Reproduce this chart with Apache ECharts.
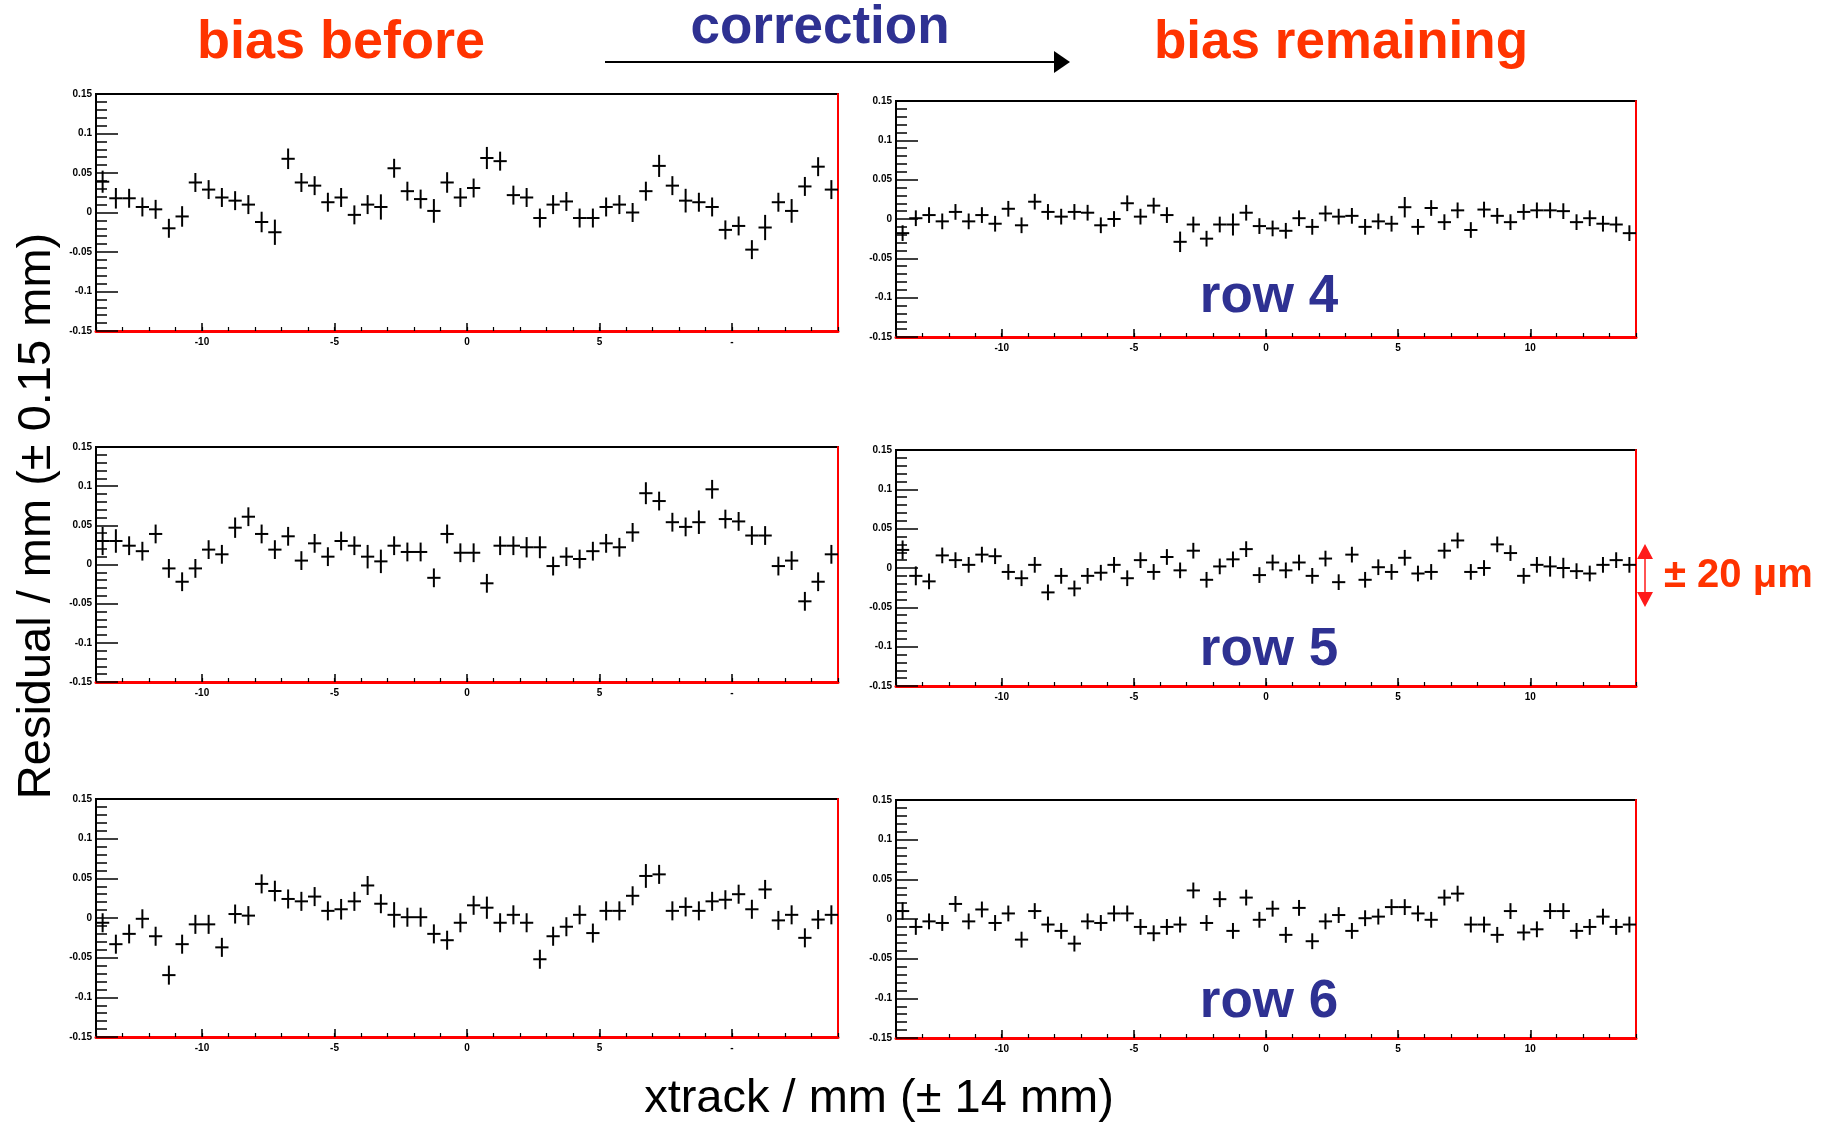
<!DOCTYPE html>
<html><head><meta charset="utf-8">
<script src="https://cdn.jsdelivr.net/npm/echarts@6/dist/echarts.min.js"></script>
<style>html,body{margin:0;padding:0;background:#fff;}#c{width:1843px;height:1126px;}</style>
</head><body><div id="c"></div>
<script>
// ---- data (bin centres in mm, residuals in mm) ----
const xtrack = [-13.75,-13.25,-12.75,-12.25,-11.75,-11.25,-10.75,-10.25,-9.75,-9.25,-8.75,-8.25,-7.75,-7.25,-6.75,-6.25,-5.75,-5.25,-4.75,-4.25,-3.75,-3.25,-2.75,-2.25,-1.75,-1.25,-0.75,-0.25,
  0.25,0.75,1.25,1.75,2.25,2.75,3.25,3.75,4.25,4.75,5.25,5.75,6.25,6.75,7.25,7.75,8.25,8.75,9.25,9.75,10.25,10.75,11.25,11.75,12.25,12.75,13.25,13.75];

const row4Before = [0.039,0.018,0.018,0.007,0.004,-0.020,-0.005,0.038,0.029,0.019,0.015,0.010,-0.012,-0.025,0.068,0.038,0.034,0.013,0.019,-0.003,0.010,0.007,0.056,0.027,0.017,0.002,0.038,0.019,
  0.031,0.069,0.065,0.022,0.019,-0.007,0.010,0.014,-0.007,-0.007,0.007,0.010,0.000,0.027,0.059,0.034,0.015,0.013,0.007,-0.022,-0.017,-0.047,-0.019,0.013,0.002,0.033,0.058,0.029];
const row4After = [-0.018,0.001,0.005,-0.003,0.009,-0.003,0.005,-0.006,0.013,-0.008,0.022,0.009,0.003,0.009,0.008,-0.008,0.000,0.020,0.003,0.017,0.005,-0.029,-0.007,-0.025,-0.007,-0.007,0.008,-0.009,
  -0.012,-0.015,0.001,-0.010,0.007,0.003,0.004,-0.010,-0.003,-0.006,0.015,-0.010,0.014,-0.004,0.011,-0.014,0.012,0.004,-0.004,0.009,0.011,0.011,0.010,-0.004,0.001,-0.006,-0.007,-0.018];
const row5Before = [0.030,0.030,0.024,0.017,0.039,-0.005,-0.022,-0.005,0.019,0.013,0.047,0.061,0.039,0.019,0.036,0.005,0.027,0.010,0.030,0.024,0.010,0.004,0.024,0.016,0.016,-0.017,0.039,0.015,
  0.015,-0.024,0.024,0.024,0.022,0.022,-0.002,0.010,0.007,0.017,0.027,0.022,0.041,0.091,0.081,0.054,0.048,0.054,0.096,0.058,0.055,0.037,0.037,-0.002,0.005,-0.047,-0.022,0.013];
const row5After = [0.023,-0.010,-0.017,0.016,0.010,0.004,0.017,0.015,-0.005,-0.013,0.004,-0.031,-0.010,-0.026,-0.010,-0.006,0.004,-0.013,0.010,-0.005,0.014,-0.003,0.022,-0.015,0.002,0.011,0.024,-0.009,
  0.007,-0.003,0.007,-0.010,0.012,-0.018,0.017,-0.015,0.001,-0.005,0.013,-0.007,-0.005,0.022,0.035,-0.005,0.000,0.030,0.019,-0.010,0.004,0.002,0.000,-0.004,-0.007,0.004,0.010,0.004];
const row6Before = [-0.006,-0.033,-0.020,-0.001,-0.023,-0.072,-0.033,-0.008,-0.008,-0.037,0.005,0.003,0.043,0.034,0.024,0.021,0.027,0.009,0.011,0.021,0.041,0.018,0.004,0.001,0.001,-0.020,-0.028,-0.006,
  0.016,0.013,-0.006,0.004,-0.006,-0.052,-0.023,-0.011,0.004,-0.019,0.009,0.009,0.028,0.053,0.055,0.009,0.014,0.009,0.021,0.023,0.030,0.011,0.036,-0.003,0.004,-0.025,-0.002,0.004];
const row6After = [0.010,-0.010,-0.003,-0.005,0.019,-0.003,0.012,-0.005,0.007,-0.026,0.010,-0.007,-0.015,-0.031,-0.003,-0.005,0.007,0.007,-0.010,-0.018,-0.010,-0.007,0.036,-0.005,0.025,-0.015,0.027,-0.001,
  0.013,-0.020,0.014,-0.028,-0.003,0.005,-0.015,0.001,0.003,0.015,0.015,0.007,-0.001,0.027,0.032,-0.007,-0.007,-0.020,0.010,-0.017,-0.013,0.010,0.010,-0.015,-0.010,0.003,-0.010,-0.007];

// vertical error bars (half length, mm)
const row4BeforeErr = [0.014,0.013,0.012,0.012,0.012,0.012,0.013,0.012,0.012,0.012,0.012,0.012,0.013,0.016,0.013,0.012,0.012,0.012,0.012,0.012,0.012,0.016,0.012,0.012,0.012,0.015,0.013,0.012,
  0.012,0.014,0.012,0.012,0.012,0.012,0.012,0.012,0.012,0.012,0.012,0.012,0.012,0.012,0.014,0.012,0.015,0.012,0.012,0.012,0.012,0.012,0.016,0.012,0.015,0.012,0.012,0.012];
const row4AfterErr = [0.010,0.010,0.010,0.010,0.010,0.010,0.010,0.010,0.010,0.010,0.010,0.010,0.010,0.010,0.010,0.010,0.010,0.010,0.010,0.010,0.010,0.013,0.010,0.010,0.010,0.014,0.010,0.010,
  0.010,0.010,0.010,0.010,0.010,0.010,0.010,0.010,0.010,0.010,0.013,0.010,0.010,0.010,0.010,0.010,0.010,0.010,0.010,0.010,0.010,0.010,0.010,0.010,0.010,0.010,0.010,0.010];
const row5BeforeErr = [0.018,0.015,0.012,0.012,0.012,0.012,0.012,0.012,0.012,0.012,0.013,0.012,0.012,0.012,0.012,0.012,0.012,0.012,0.012,0.012,0.015,0.015,0.012,0.012,0.012,0.012,0.012,0.012,
  0.012,0.012,0.012,0.012,0.013,0.014,0.012,0.012,0.012,0.012,0.012,0.012,0.012,0.014,0.012,0.012,0.012,0.015,0.012,0.012,0.012,0.012,0.012,0.012,0.012,0.012,0.012,0.012];
const row5AfterErr = [0.012,0.012,0.010,0.010,0.010,0.010,0.010,0.010,0.010,0.010,0.010,0.010,0.010,0.010,0.010,0.010,0.010,0.010,0.010,0.010,0.010,0.010,0.010,0.010,0.010,0.010,0.010,0.010,
  0.010,0.010,0.010,0.010,0.010,0.010,0.010,0.010,0.010,0.010,0.010,0.010,0.010,0.010,0.010,0.010,0.010,0.010,0.010,0.010,0.010,0.013,0.013,0.010,0.010,0.010,0.010,0.010];
const row6BeforeErr = [0.012,0.012,0.012,0.012,0.012,0.012,0.012,0.012,0.012,0.012,0.012,0.012,0.012,0.013,0.012,0.012,0.012,0.012,0.013,0.012,0.012,0.012,0.016,0.012,0.012,0.012,0.012,0.012,
  0.012,0.014,0.012,0.012,0.012,0.012,0.012,0.012,0.012,0.012,0.012,0.012,0.012,0.015,0.012,0.012,0.012,0.012,0.012,0.012,0.012,0.012,0.012,0.012,0.012,0.012,0.012,0.012];
const row6AfterErr = [0.011,0.010,0.010,0.010,0.010,0.010,0.010,0.010,0.010,0.010,0.010,0.010,0.010,0.010,0.010,0.010,0.010,0.010,0.010,0.010,0.010,0.010,0.010,0.010,0.010,0.010,0.010,0.010,
  0.010,0.010,0.010,0.010,0.010,0.010,0.010,0.010,0.010,0.010,0.010,0.010,0.010,0.010,0.010,0.010,0.010,0.010,0.010,0.010,0.010,0.010,0.010,0.010,0.010,0.010,0.010,0.010];

const xMajorTicks = [-10, -5, 0, 5, 10];
const binHalfWidth = 0.25;

// ---- layout ----
const panels = [
  {vals: row4Before, errs: row4BeforeErr, grid: {left: 96, top: 94, width: 742, height: 237}, side: 'L'},
  {vals: row4After,  errs: row4AfterErr,  grid: {left: 896, top: 101, width: 740, height: 236}, side: 'R'},
  {vals: row5Before, errs: row5BeforeErr, grid: {left: 96, top: 447, width: 742, height: 235}, side: 'L'},
  {vals: row5After,  errs: row5AfterErr,  grid: {left: 896, top: 450, width: 740, height: 236}, side: 'R'},
  {vals: row6Before, errs: row6BeforeErr, grid: {left: 96, top: 799, width: 742, height: 238}, side: 'L'},
  {vals: row6After,  errs: row6AfterErr,  grid: {left: 896, top: 800, width: 740, height: 238}, side: 'R'}
];

const FONT = '"Liberation Sans", Arial, Helvetica, sans-serif';
const tickLabel = {fontSize: 10, fontWeight: 'bold', color: '#000', fontFamily: FONT};

const grids = [], xAxes = [], yAxes = [], series = [];
panels.forEach((p, i) => {
  grids.push(Object.assign({show: true, borderColor: '#000', borderWidth: 2, backgroundColor: 'transparent', containLabel: false}, p.grid));
  // main x axis (major ticks + labels, red bottom line)
  xAxes.push({
    gridIndex: i, type: 'value', min: -14, max: 14, position: 'bottom',
    axisLine: {show: true, onZero: false, lineStyle: {color: '#ff0000', width: 3}},
    axisTick: {show: true, inside: true, length: 8, customValues: xMajorTicks, lineStyle: {color: '#000', width: 1.5}},
    axisLabel: Object.assign({show: true, margin: 6, customValues: xMajorTicks,
      formatter: v => (p.side === 'L' && v === 10) ? '-' : String(v)}, tickLabel),
    splitLine: {show: false}
  });
  // minor x ticks every 1 mm
  xAxes.push({
    gridIndex: i, type: 'value', min: -14, max: 14, interval: 1, position: 'bottom',
    axisLine: {show: false, onZero: false},
    axisTick: {show: true, inside: true, length: 4, lineStyle: {color: '#000', width: 1.2}},
    axisLabel: {show: false}, splitLine: {show: false}
  });
  yAxes.push({
    gridIndex: i, type: 'value', min: -0.15, max: 0.15, interval: 0.05, position: 'left',
    axisLine: {show: true, onZero: false, lineStyle: {color: '#000', width: 2}},
    axisTick: {show: true, inside: true, length: 22, lineStyle: {color: '#000', width: 1.5}},
    minorTick: {show: true, splitNumber: 5, length: 11, lineStyle: {color: '#000', width: 1.5}},
    axisLabel: Object.assign({show: true, margin: 4,
      formatter: v => String(Math.round(v * 100) / 100)}, tickLabel),
    splitLine: {show: false}, minorSplitLine: {show: false}
  });
  yAxes.push({
    gridIndex: i, type: 'value', min: -0.15, max: 0.15, position: 'right',
    axisLine: {show: true, onZero: false, lineStyle: {color: '#ff0000', width: 2}},
    axisTick: {show: false}, axisLabel: {show: false}, splitLine: {show: false}
  });
  series.push({
    type: 'custom', xAxisIndex: 2 * i, yAxisIndex: 2 * i, clip: true, z: 5,
    dimensions: ['x', 'y', 'err'], encode: {x: 0, y: 1},
    data: xtrack.map((x, k) => [x, p.vals[k], p.errs[k]]),
    renderItem: (params, api) => {
      const x = api.value(0), y = api.value(1), e = api.value(2);
      const c = api.coord([x, y]);
      const l = api.coord([x - binHalfWidth, y]);
      const r = api.coord([x + binHalfWidth, y]);
      const t = api.coord([x, y + e]);
      const b = api.coord([x, y - e]);
      const st = {stroke: '#000', lineWidth: 2};
      return {type: 'group', children: [
        {type: 'line', shape: {x1: l[0], y1: c[1], x2: r[0], y2: c[1]}, style: st},
        {type: 'line', shape: {x1: c[0], y1: t[1], x2: c[0], y2: b[1]}, style: st}
      ]};
    }
  });
});

function txt(text, x, y, size, color, bold, align, extra) {
  return Object.assign({
    type: 'text', x: x, y: y, z: 10,
    style: {text: text, font: (bold ? 'bold ' : '') + size + 'px ' + FONT, fill: color,
      textAlign: align || 'center', textVerticalAlign: 'middle', verticalAlign: 'middle'}
  }, extra || {});
}

const RED = '#ff3300', NAVY = '#2e3192';
const graphics = [
  txt('bias before', 341, 43, 54, RED, true),
  txt('correction', 820, 28, 53, NAVY, true),
  txt('bias remaining', 1341, 43, 53, RED, true),
  // arrow under "correction"
  {type: 'line', z: 10, shape: {x1: 605, y1: 62, x2: 1058, y2: 62}, style: {stroke: '#000', lineWidth: 2}},
  {type: 'polygon', z: 10, shape: {points: [[1054, 51], [1070, 62], [1054, 73]]}, style: {fill: '#000'}},
  txt('row 4', 1269, 297, 53, NAVY, true),
  txt('row 5', 1269, 650, 53, NAVY, true),
  txt('row 6', 1269, 1002, 53, NAVY, true),
  txt('Residual / mm (\u00b1 0.15 mm)', 37, 516, 47, '#000', false, 'center', {rotation: Math.PI / 2}),
  txt('xtrack / mm (\u00b1 14 mm)', 879, 1099, 47, '#000', false),
  // +-20 um marker
  {type: 'line', z: 10, shape: {x1: 1645, y1: 556, x2: 1645, y2: 596}, style: {stroke: '#ff1a1a', lineWidth: 1.5}},
  {type: 'polygon', z: 10, shape: {points: [[1645, 544], [1637, 559], [1653, 559]]}, style: {fill: '#ff1a1a'}},
  {type: 'polygon', z: 10, shape: {points: [[1645, 607], [1637, 592], [1653, 592]]}, style: {fill: '#ff1a1a'}},
  txt('\u00b1 20 \u03bcm', 1664, 576, 40, RED, true, 'left')
];

const chart = echarts.init(document.getElementById('c'), null, {renderer: 'canvas', width: 1843, height: 1126});
chart.setOption({
  animation: false,
  backgroundColor: '#fff',
  grid: grids, xAxis: xAxes, yAxis: yAxes, series: series,
  graphic: graphics
});
</script>
</body></html>
